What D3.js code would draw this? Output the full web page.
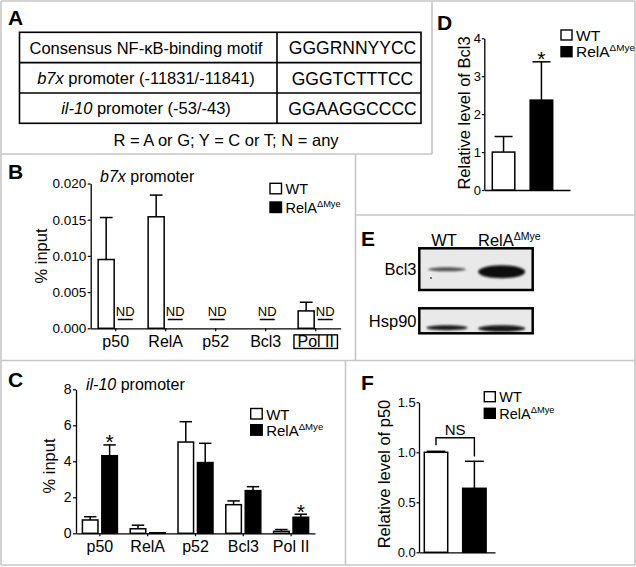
<!DOCTYPE html>
<html>
<head>
<meta charset="utf-8">
<script src="https://cdn.jsdelivr.net/npm/d3@7"></script>
<style>
  body { margin: 0; background: #fff; }
  svg { display: block; font-family: "Liberation Sans", Arial, sans-serif; }
</style>
</head>
<body>
<div id="fig"></div>
<script>
// ---- data ----
var motifNames = [["", "Consensus NF-\u03BAB-binding motif"], ["b7x", " promoter (-11831/-11841)"], ["il-10", " promoter (-53/-43)"]];
var motifSeqs = ["GGGRNNYYCC", "GGGTCTTTCC", "GGAAGGCCCC"];
var motifNote = "R = A or G; Y = C or T; N = any";

var chipGroups = ["p50", "RelA", "p52", "Bcl3", "Pol II"];
var genotypes = ["WT", "RelA"];

var b7xWT = [0.0095, 0.0154, null, null, 0.0024];
var b7xWTErr = [0.0058, 0.0030, null, null, 0.0012];
var b7xND = ["KO", "KO", "both", "both", "KO"];
var b7xTicks = [0, 0.005, 0.010, 0.015, 0.020];

var il10WT = [0.74, 0.25, 5.07, 1.59, 0.11];
var il10WTErr = [0.18, 0.20, 1.13, 0.21, 0.10];
var il10KO = [4.31, 0.03, 3.93, 2.37, 0.89];
var il10KOErr = [0.60, 0, 1.07, 0.22, 0.17];
var il10Star = ["p50", "Pol II"];
var il10Ticks = [0, 2, 4, 6, 8];

var bcl3Level = [1.0, 2.37];
var bcl3Err = [0.41, 1.01];
var bcl3Ticks = [0, 1, 2, 3, 4];

var p50Level = [1.0, 0.64];
var p50Err = [0.01, 0.27];
var p50Ticks = [0, 0.5, 1.0, 1.5];

var blotProteins = ["Bcl3", "Hsp90"];
var bcl3Band = [0.7, 1.0];
var hsp90Band = [0.95, 0.95];

// ---- setup ----
var W = 636, H = 567;
var svg = d3.select("#fig").append("svg").attr("width", W).attr("height", H);
var defs = svg.append("defs");
defs.append("filter").attr("id", "blur").attr("x", "-30%").attr("y", "-80%").attr("width", "160%").attr("height", "260%")
  .append("feGaussianBlur").attr("stdDeviation", 1.3);

// panel frame lines
var grey = "#c6c6c6";
var frame = [
  [1, 1, 635, 1], [635, 1, 635, 565], [1, 565, 635, 565], [1, 1, 1, 565],
  [432, 1, 432, 154], [1, 154, 432, 154],
  [355.5, 154, 355.5, 360], [355.5, 215, 635, 215],
  [1, 360.5, 635, 360.5], [345.5, 360.5, 345.5, 565]
];
svg.selectAll("line.frame").data(frame).enter().append("line")
  .attr("x1", d => d[0]).attr("y1", d => d[1]).attr("x2", d => d[2]).attr("y2", d => d[3])
  .attr("stroke", grey).attr("stroke-width", 1.6);

// panel letters
var letters = [["A", 8, 25], ["B", 8, 179], ["C", 8, 387], ["D", 437, 30], ["E", 361, 246], ["F", 361, 390]];
svg.selectAll("text.letter").data(letters).enter().append("text")
  .attr("x", d => d[1]).attr("y", d => d[2]).text(d => d[0])
  .attr("font-size", 21).attr("font-weight", "bold");

function relaLabel(t, base, supSize, raise) {
  t.text(base);
  t.append("tspan").attr("font-size", supSize).attr("dy", -raise).text("\u0394Mye");
}

function legend(x, y0, pitch, sq, fs) {
  genotypes.forEach(function (k, i) {
    var y = y0 + i * pitch;
    svg.append("rect").attr("x", x).attr("y", y).attr("width", sq).attr("height", sq - 1)
      .attr("fill", i ? "#000" : "#fff").attr("stroke", "#000").attr("stroke-width", 1.4);
    var t = svg.append("text").attr("x", x + sq + 4).attr("y", y + sq - 0.5).attr("font-size", fs);
    if (i) relaLabel(t, k, fs * 0.64, fs * 0.38); else t.text(k);
  });
}

function styleAxis(g, fs) {
  g.attr("font-size", fs).attr("font-family", null);
  g.select(".domain").attr("stroke-width", 1.3);
  g.selectAll(".tick line").attr("stroke-width", 1.2);
  g.selectAll(".tick text").attr("fill", "#000");
}

function errBar(x, yBase, yTop, cw) {
  svg.append("line").attr("x1", x).attr("x2", x).attr("y1", yBase).attr("y2", yTop)
    .attr("stroke", "#000").attr("stroke-width", 1.5);
  svg.append("line").attr("x1", x - cw / 2).attr("x2", x + cw / 2).attr("y1", yTop).attr("y2", yTop)
    .attr("stroke", "#000").attr("stroke-width", 1.5);
}

function star(x, y) {
  svg.append("text").attr("x", x).attr("y", y).attr("text-anchor", "middle")
    .attr("font-size", 21).text("*");
}

// ---- panel A: table ----
var tx0 = 19.5, tx1 = 421, tcol = 277;
var rowY = d3.scaleBand().domain(d3.range(motifSeqs.length)).range([32.3, 123.3]);
var tbl = svg.append("g");
tbl.append("rect").attr("x", tx0).attr("y", 32.3).attr("width", tx1 - tx0).attr("height", 91)
  .attr("fill", "none").attr("stroke", "#000").attr("stroke-width", 1.6);
tbl.append("line").attr("x1", tcol).attr("x2", tcol).attr("y1", 32.3).attr("y2", 123.3)
  .attr("stroke", "#000").attr("stroke-width", 1.6);
d3.range(1, motifSeqs.length).forEach(function (i) {
  tbl.append("line").attr("x1", tx0).attr("x2", tx1).attr("y1", rowY(i)).attr("y2", rowY(i))
    .attr("stroke", "#000").attr("stroke-width", 1.6);
});
motifNames.forEach(function (n, i) {
  var t = tbl.append("text").attr("x", 146).attr("y", rowY(i) + 21.5)
    .attr("text-anchor", "middle").attr("font-size", 16.5);
  if (n[0]) t.append("tspan").attr("font-style", "italic").text(n[0]);
  t.append("tspan").text(n[1]);
  tbl.append("text").attr("x", 352.5).attr("y", rowY(i) + 22)
    .attr("text-anchor", "middle").attr("font-size", 17.5).text(motifSeqs[i]);
});
svg.append("text").attr("x", 226).attr("y", 145.5).attr("text-anchor", "middle")
  .attr("font-size", 16.5).text(motifNote);

// ---- grouped ChIP charts (B, C) ----
function chipChart(c) {
  var x = d3.scaleBand().domain(chipGroups).range([c.x0, c.x1]);
  var sub = d3.scaleBand().domain(genotypes).range([0, x.bandwidth()])
    .paddingInner(c.pi).paddingOuter(c.po);
  var y = d3.scaleLinear().domain([0, c.max]).range([c.yBot, c.yTop]);
  var bw = sub.bandwidth();

  var ya = svg.append("g").attr("transform", "translate(" + c.x0 + ",0)")
    .call(d3.axisLeft(y).tickValues(c.ticks).tickFormat(c.fmt).tickSize(3).tickPadding(c.tp).tickSizeOuter(0));
  styleAxis(ya, c.tfs);
  var xa = svg.append("g").attr("transform", "translate(0," + c.yBot + ")")
    .call(d3.axisBottom(x).tickSize(3).tickPadding(4).tickSizeOuter(0));
  styleAxis(xa, 16);

  var series = [{ k: "WT", v: c.wt, e: c.wtErr, fill: "#fff" }, { k: "RelA", v: c.ko, e: c.koErr, fill: "#000" }];
  series.forEach(function (s) {
    chipGroups.forEach(function (grp, i) {
      if (s.v[i] == null) return;
      var bx = x(grp) + sub(s.k), cx = bx + bw / 2;
      if (s.e[i] > 0) errBar(cx, y(s.v[i]), y(s.v[i] + s.e[i]), bw * 0.8);
      svg.append("rect").attr("x", bx).attr("y", y(s.v[i])).attr("width", bw)
        .attr("height", Math.max(0.6, y(0) - y(s.v[i])))
        .attr("fill", s.fill).attr("stroke", "#000").attr("stroke-width", 1.5);
    });
  });
  return { x: x, sub: sub, y: y, xa: xa };
}

// panel B
var B = chipChart({
  x0: 90.7, x1: 340.7, yTop: 183.5, yBot: 328.3, max: 0.02, ticks: b7xTicks, fmt: d3.format(".3f"),
  tp: 1.5, tfs: 13.5, pi: 0.16, po: 0.39,
  wt: b7xWT, wtErr: b7xWTErr, ko: chipGroups.map(() => null), koErr: chipGroups.map(() => null)
});
chipGroups.forEach(function (grp, i) {
  var cx = b7xND[i] === "KO" ? B.x(grp) + B.sub("RelA") + B.sub.bandwidth() / 2
    : B.x(grp) + B.x.bandwidth() / 2 + 1.5;
  svg.append("text").attr("x", cx).attr("y", 316).attr("text-anchor", "middle")
    .attr("font-size", 13).text("ND");
  svg.append("line").attr("x1", cx - 7.5).attr("x2", cx + 7.5).attr("y1", 319.5).attr("y2", 319.5)
    .attr("stroke", "#000").attr("stroke-width", 1.5);
});
// box around "Pol II"
B.xa.selectAll(".tick").filter(d => d === "Pol II").each(function () {
  var t = d3.select(this).select("text");
  var bb = t.node().getBBox();
  d3.select(this).append("rect").attr("x", bb.x - 3.5).attr("y", bb.y + 2.2)
    .attr("width", bb.width + 7).attr("height", bb.height - 3.4)
    .attr("fill", "none").attr("stroke", "#000").attr("stroke-width", 1.4);
});
var bt = svg.append("text").attr("x", 100).attr("y", 182).attr("font-size", 16);
bt.append("tspan").attr("font-style", "italic").text("b7x");
bt.append("tspan").text(" promoter");
svg.append("text").attr("transform", "translate(46.5,256) rotate(-90)").attr("text-anchor", "middle")
  .attr("font-size", 16.5).text("% input");
legend(270, 183.3, 18.7, 11.5, 14.5);

// panel C
var C = chipChart({
  x0: 76, x1: 315, yTop: 389.3, yBot: 533.3, max: 8, ticks: il10Ticks, fmt: d3.format("d"),
  tp: 1.5, tfs: 14, pi: 0.2, po: 0.33,
  wt: il10WT, wtErr: il10WTErr, ko: il10KO, koErr: il10KOErr
});
il10Star.forEach(function (grp) {
  var i = chipGroups.indexOf(grp);
  star(C.x(grp) + C.sub("RelA") + C.sub.bandwidth() / 2, C.y(il10KO[i] + il10KOErr[i]) + 4.5);
});
var ct = svg.append("text").attr("x", 86).attr("y", 390).attr("font-size", 16);
ct.append("tspan").attr("font-style", "italic").text("il-10");
ct.append("tspan").text(" promoter");
svg.append("text").attr("transform", "translate(54.5,466) rotate(-90)").attr("text-anchor", "middle")
  .attr("font-size", 16.5).text("% input");
legend(250.7, 408.5, 16.2, 11.5, 15);

// ---- two-bar charts (D, F) ----
function pairChart(c) {
  var x = d3.scaleBand().domain(genotypes).range([c.x0, c.x1])
    .paddingInner(c.pi).paddingOuter(c.po).align(c.al);
  var y = d3.scaleLinear().domain([0, c.max]).range([c.yBot, c.yTop]);
  var ya = svg.append("g").attr("transform", "translate(" + c.x0 + ",0)")
    .call(d3.axisLeft(y).tickValues(c.ticks).tickFormat(c.fmt).tickSize(2.5).tickPadding(0.8).tickSizeOuter(0));
  styleAxis(ya, 13);
  var xa = svg.append("g").attr("transform", "translate(0," + c.yBot + ")")
    .call(d3.axisBottom(d3.scaleLinear().range([c.x0, c.x1])).tickValues([]).tickSizeOuter(0));
  styleAxis(xa, 12);
  genotypes.forEach(function (k, i) {
    var bx = x(k), cx = bx + x.bandwidth() / 2;
    errBar(cx, y(c.v[i]), y(c.v[i] + c.e[i]), x.bandwidth() * 0.8);
    svg.append("rect").attr("x", bx).attr("y", y(c.v[i])).attr("width", x.bandwidth())
      .attr("height", y(0) - y(c.v[i])).attr("fill", i ? "#000" : "#fff")
      .attr("stroke", "#000").attr("stroke-width", 1.5);
  });
  svg.append("text").attr("transform", "translate(" + c.labX + "," + c.labY + ") rotate(-90)")
    .attr("text-anchor", "middle").attr("font-size", 16.5).text(c.label);
  return { x: x, y: y };
}

// panel D
var D = pairChart({
  x0: 484.3, x1: 570, yTop: 38.3, yBot: 190, max: 4, ticks: bcl3Ticks, fmt: d3.format("d"),
  pi: 0.406, po: 0.334, al: 0.316, v: bcl3Level, e: bcl3Err,
  label: "Relative level of Bcl3", labX: 469.5, labY: 113
});
star(D.x("RelA") + D.x.bandwidth() / 2, D.y(bcl3Level[1] + bcl3Err[1]) + 4.5);
legend(561, 30, 16.7, 11, 15.5);

// panel F
var F = pairChart({
  x0: 419, x1: 495, yTop: 402.3, yBot: 552.3, max: 1.5, ticks: p50Ticks, fmt: d3.format(".1f"),
  pi: 0.39, po: 0.185, al: 0.373, v: p50Level, e: p50Err,
  label: "Relative level of p50", labX: 390, labY: 474
});
var lx = F.x("WT") + F.x.bandwidth() / 2, rx = F.x("RelA") + F.x.bandwidth() / 2;
var brY = F.y(1.146);
svg.append("path").attr("d", "M" + lx + "," + F.y(1.07) + "V" + brY + "H" + rx + "V" + F.y(0.957))
  .attr("fill", "none").attr("stroke", "#000").attr("stroke-width", 1.4);
svg.append("text").attr("x", (lx + rx) / 2).attr("y", brY - 3).attr("text-anchor", "middle")
  .attr("font-size", 15).text("NS");
legend(484.3, 391.7, 16.6, 11, 14.5);

// ---- panel E: western blot ----
var lane = d3.scaleBand().domain(genotypes).range([419.3, 532.7]).paddingInner(0.12).paddingOuter(0.06).align(0.4);
var blotBoxes = [{ p: "Bcl3", y: 248.3, h: 41.7, band: bcl3Band, by: [21, 23.5], bh: [4, 13], bw: [38, 47] },
                 { p: "Hsp90", y: 308.3, h: 25, band: hsp90Band, by: [19.4, 20.2], bh: [5, 6.5], bw: [41, 47] }];
blotBoxes.forEach(function (b) {
  svg.append("rect").attr("x", 419.3).attr("y", b.y).attr("width", 113.4).attr("height", b.h)
    .attr("fill", "#e9e9e9");
  genotypes.forEach(function (k, i) {
    svg.append("ellipse").attr("cx", lane(k) + lane.bandwidth() / 2 + (i ? -2 : 0))
      .attr("cy", b.y + b.by[i]).attr("rx", b.bw[i] / 2).attr("ry", b.bh[i] / 2)
      .attr("fill", "#0a0a0a").attr("opacity", b.band[i]).attr("filter", "url(#blur)");
  });
  svg.append("rect").attr("x", 419.3).attr("y", b.y).attr("width", 113.4).attr("height", b.h)
    .attr("fill", "none").attr("stroke", "#000").attr("stroke-width", 2.5);
  svg.append("text").attr("x", 416.5).attr("y", b.y + b.h / 2 + 6).attr("text-anchor", "end")
    .attr("font-size", 16.5).text(b.p);
});
svg.append("circle").attr("cx", 431).attr("cy", 278).attr("r", 1.1).attr("fill", "#555");
svg.append("text").attr("x", lane("WT") + lane.bandwidth() / 2 - 3).attr("y", 246)
  .attr("text-anchor", "middle").attr("font-size", 16.5).text("WT");
relaLabel(svg.append("text").attr("x", 478).attr("y", 246).attr("font-size", 16.5), "RelA", 10.5, 6);
</script>
</body>
</html>
